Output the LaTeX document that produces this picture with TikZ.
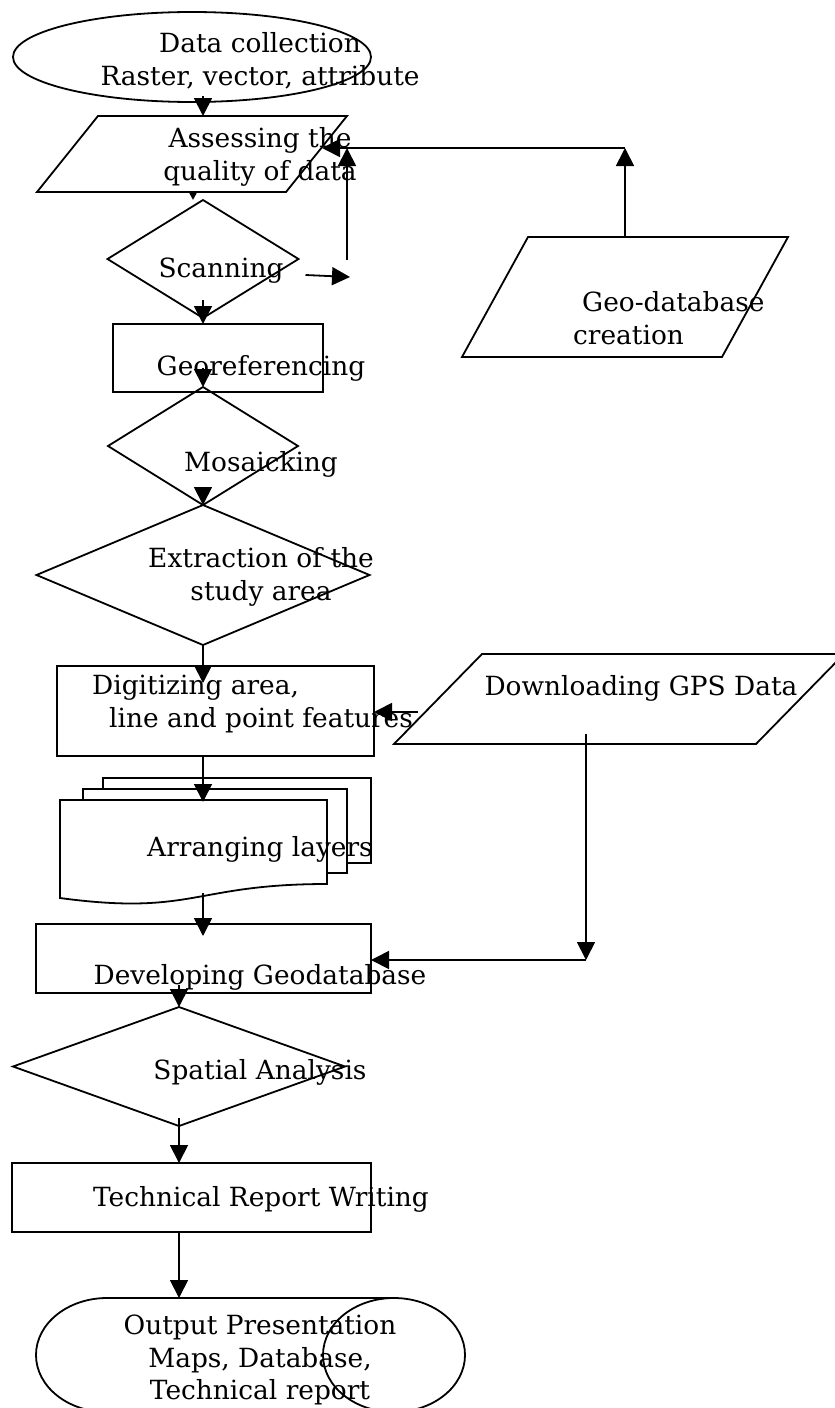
\documentclass[tikz,border=0pt]{standalone}
\usepackage{fontspec}
\setmainfont{DejaVu Serif}
\usetikzlibrary{shapes.geometric,arrows.meta,calc}
\begin{document}
\begin{tikzpicture}[x=1pt,y=1pt,
  shp/.style={draw=black, line width=1.8pt, inner sep=0pt, outer sep=0pt},
  ghost/.style={draw=none, rectangle, inner sep=0pt, outer sep=0pt},
  lbl/.style={inner sep=0pt, font=\fontsize{26.4}{32.5}\selectfont, align=center},
  arr/.style={line width=1.8pt, -{Triangle[length=18pt,width=18pt]}},
  tiny/.style={line width=1.8pt, -{Triangle[length=8pt,width=8pt]}}
]
\useasboundingbox (0,0) rectangle (835,-1408);

% ---------- shapes ----------
\node[shp, ellipse, minimum width=358pt, minimum height=90pt] (collect) at (192,-57) {};

\node[ghost, minimum width=310pt, minimum height=76pt] (assess) at (192,-154) {};
\draw[shp] (assess.south west) -- ($(assess.north west)+(61,0)$) -- (assess.north east) -- ($(assess.south east)+(-61,0)$) -- cycle;

\node[shp, diamond, minimum width=191pt, minimum height=118pt] (scan) at (203,-259) {};
\node[shp, rectangle, minimum width=210pt, minimum height=68pt] (georef) at (218,-358) {};
\node[shp, diamond, minimum width=190pt, minimum height=118pt] (mosaic) at (203,-446) {};
\node[shp, diamond, minimum width=333pt, minimum height=140pt] (extract) at (203,-575) {};
\node[shp, rectangle, minimum width=317pt, minimum height=90pt] (digit) at (215.5,-711) {};

\node[ghost, minimum width=267pt, minimum height=100pt] (layers) at (193.5,-850) {};
\draw[shp] ($(layers.north west)+(43,11)$) -- ($(layers.north west)+(43,22)$) -- ($(layers.north east)+(44,22)$) -- ($(layers.north east)+(44,-63)$) -- ($(layers.north east)+(20,-63)$);
\draw[shp] ($(layers.north west)+(23,0)$) -- ($(layers.north west)+(23,11)$) -- ($(layers.north east)+(20,11)$) -- ($(layers.north east)+(20,-73)$) -- ($(layers.north east)+(0,-73)$);
\draw[shp] (layers.north west) -- (layers.north east) -- ($(layers.north east)+(0,-84)$) .. controls ($(layers.north)+(0,-84)$) and ($(layers.north)+(0,-116)$) .. ($(layers.north west)+(0,-98)$) -- cycle;

\node[shp, rectangle, minimum width=335pt, minimum height=69pt] (develop) at (203.5,-958.5) {};
\node[shp, diamond, minimum width=332pt, minimum height=119pt] (spatial) at (179,-1066.5) {};
\node[shp, rectangle, minimum width=359pt, minimum height=69pt] (tech) at (191.5,-1197.5) {};

\node[ghost, minimum width=429pt, minimum height=114pt] (output) at (250.5,-1355) {};
\draw[shp] ($(output.north west)+(71,0)$) arc[start angle=90, end angle=270, x radius=71, y radius=57] -- ($(output.south east)+(-71,0)$);
\draw[shp] ($(output.north west)+(71,0)$) -- ($(output.north east)+(-71,0)$);
\draw[shp] ($(output.east)+(-71,0)$) ellipse[x radius=71, y radius=57];

\node[ghost, minimum width=326pt, minimum height=120pt] (geodb) at (625,-297) {};
\draw[shp] (geodb.south west) -- ($(geodb.north west)+(66,0)$) -- (geodb.north east) -- ($(geodb.south east)+(-66,0)$) -- cycle;

\node[ghost, minimum width=450pt, minimum height=90pt] (gps) at (619,-699) {};
\draw[shp] (gps.south west) -- ($(gps.north west)+(88,0)$) -- (gps.north east) -- ($(gps.south east)+(-88,0)$) -- cycle;

% ---------- free coordinates ----------
\coordinate (j1) at (350,-277);
\coordinate (j2) at (347,-260);
\coordinate (j3) at (347,-148);
\coordinate (k1) at (625,-148);
\coordinate (k2) at (586,-960);

% ---------- connectors ----------
\draw[arr] ($(collect.south)+(11,6)$) -- ($(assess.north)+(11,0)$);
\draw[tiny] ($(assess.south)+(1,0)$) -- ($(scan.north)+(-10,0)$);
\draw[arr] ($(scan.south)+(0,18)$) -- ($(georef.north)+(-15,0)$);
\draw[arr] ($(scan.east)+(7,-16)$) -- (j1);
\draw[arr] (j2) -- (j3);
\draw[arr] (geodb.north) -- (k1);
\draw[arr] (k1) -- ($(assess.center)+(130,6)$);
\draw[arr] ($(georef.south)+(-15,24)$) -- (mosaic.north);
\draw[arr] ($(mosaic.south)+(0,16)$) -- (extract.north);
\draw[arr] (extract.south) -- ($(digit.north)+(-12.5,-17)$);
\draw[arr] ($(gps.center)+(-201,-13)$) -- ($(digit.east)+(0,-1)$);
\draw[arr] ($(gps.center)+(-33,-35)$) -- (k2);
\draw[arr] (k2) -- ($(develop.east)+(0,-1.5)$);
\draw[arr] ($(digit.south)+(-12.5,0)$) -- ($(layers.north)+(9.5,-2)$);
\draw[arr] ($(layers.south)+(9.5,7)$) -- ($(develop.north)+(-0.5,-12)$);
\draw[arr] ($(develop.south)+(-24.5,8)$) -- (spatial.north);
\draw[arr] ($(spatial.south)+(0,8)$) -- ($(tech.north)+(-12.5,0)$);
\draw[arr] ($(tech.south)+(-12.5,0)$) -- ($(output.north)+(-71.5,0)$);

% ---------- texts ----------
\node[lbl] (t1) at (260,-61) {Data collection\\Raster, vector, attribute};
\node[lbl] (t2) at (260,-157) {Assessing the\\quality of data};
\node[lbl] (t3) at (221,-271) {Scanning};
\node[lbl] (t4) at (261,-368) {Georeferencing};
\node[lbl] (t5) at (261,-464) {Mosaicking};
\node[lbl] (t6) at (261,-577) {Extraction of the\\study area};
\node[lbl, align=left, anchor=west] (t7) at (92,-704) {Digitizing area,\\\hspace*{17pt}line and point features};
\node[lbl] (t8) at (641,-688) {Downloading GPS Data};
\node[lbl, align=left, anchor=west] (t9) at (573,-318) {\hspace*{9pt}Geo-database\\creation};
\node[lbl] (t10) at (260,-849) {Arranging layers};
\node[lbl] (t11) at (260,-977) {Developing Geodatabase};
\node[lbl] (t12) at (260,-1072) {Spatial Analysis};
\node[lbl] (t13) at (261,-1199) {Technical Report Writing};
\node[lbl] (t14) at (260,-1360) {Output Presentation\\Maps, Database,\\Technical report};
\end{tikzpicture}
\end{document}
